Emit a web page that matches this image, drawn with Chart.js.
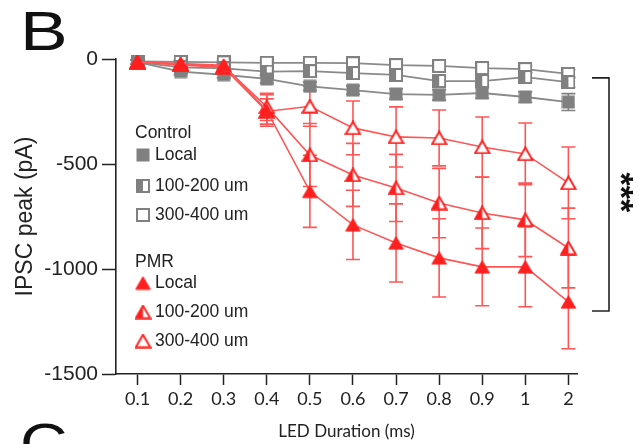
<!DOCTYPE html>
<html>
<head>
<meta charset="utf-8">
<script src="https://cdn.jsdelivr.net/npm/chart.js@4.4.1/dist/chart.umd.min.js"></script>
<style>
html,body{margin:0;padding:0;background:#fff;}
#wrap{position:relative;width:640px;height:444px;}
</style>
</head>
<body>
<div id="wrap"><canvas id="c" width="640" height="444"></canvas></div>
<script>
// ---- data ----
const durations = ['0.1','0.2','0.3','0.4','0.5','0.6','0.7','0.8','0.9','1','2'];
const yTicks = [0, -500, -1000, -1500];

const ctrlLocal    = [-15, -60, -75, -95, -130, -148, -167, -171, -162, -181, -205];
const ctrlLocalErr = [10, 15, 15, 20, 20, 20, 25, 25, 25, 25, 40];
const ctrlMid      = [-15, -40, -45, -60, -58, -67, -76, -105, -105, -86, -110];
const ctrlMidErr   = [10, 12, 12, 18, 18, 18, 20, 22, 20, 20, 25];
const ctrlFar      = [-12, -14, -16, -18, -18, -20, -29, -33, -43, -48, -71];
const ctrlFarErr   = [8, 8, 10, 12, 12, 12, 15, 15, 15, 15, 20];

const pmrLocal     = [-15, -22, -30, -245, -630, -790, -876, -947, -990, -990, -1157];
const pmrLocalErr  = [10, 10, 15, 75, 172, 165, 186, 186, 185, 190, 223];
const pmrMid       = [-15, -25, -35, -228, -457, -552, -614, -686, -733, -766, -900];
const pmrMidErr    = [10, 10, 15, 65, 150, 150, 160, 165, 170, 175, 190];
const pmrFar       = [-15, -28, -40, -250, -225, -328, -371, -376, -419, -452, -590];
const pmrFarErr    = [10, 10, 15, 60, 95, 128, 143, 133, 143, 147, 171];

const sigLabel = '***';
const bracketRange = [-90, -1200];

// ---- styles ----
const GRAY = '#808080';
const GRAY_LINE = '#8a8a8a';
const RED = '#ff1f1f';
const RED_LINE = '#ff5555';
const SANS = '"Liberation Sans", Arial, sans-serif';

function makeSquare(kind){
  const s = 14, c = document.createElement('canvas'); c.width = s; c.height = s;
  const g = c.getContext('2d');
  if (kind === 'filled'){ g.fillStyle = GRAY; g.fillRect(0.5,0.5,s-1,s-1); }
  else {
    g.fillStyle = '#fff'; g.fillRect(1,1,s-2,s-2);
    if (kind === 'half'){ g.fillStyle = GRAY; g.fillRect(1,1,(s-2)/2,s-2); }
    g.strokeStyle = GRAY; g.lineWidth = 2; g.strokeRect(1,1,s-2,s-2);
  }
  return c;
}
function makeTri(kind){
  const w = 17, h = 15, c = document.createElement('canvas'); c.width = w; c.height = h;
  const g = c.getContext('2d');
  const path = () => { g.beginPath(); g.moveTo(w/2,1.2); g.lineTo(w-1.2,h-1.2); g.lineTo(1.2,h-1.2); g.closePath(); };
  if (kind === 'filled'){ path(); g.fillStyle = RED; g.fill(); g.strokeStyle = RED; g.lineWidth = 1; g.stroke(); }
  else {
    path(); g.fillStyle = '#fff'; g.fill();
    if (kind === 'half'){ g.save(); path(); g.clip(); g.fillStyle = RED; g.fillRect(0,0,w/2,h); g.restore(); }
    path(); g.strokeStyle = RED; g.lineWidth = 2; g.stroke();
  }
  return c;
}
const sqFilled = makeSquare('filled'), sqHalf = makeSquare('half'), sqOpen = makeSquare('open');
const trFilled = makeTri('filled'), trHalf = makeTri('half'), trOpen = makeTri('open');

const toXY = arr => arr.map((v,i)=>({x:i, y:v}));
function ds(label, values, errs, marker, lineColor, errColor, lw){
  return {label, data: toXY(values), errors: errs, errorColor: errColor,
    borderColor: lineColor, borderWidth: lw, pointStyle: marker, pointRadius: 7,
    pointHoverRadius: 7, fill: false, tension: 0, clip: false};
}

const datasets = [
  ds('PMR Local', pmrLocal, pmrLocalErr, trFilled, RED_LINE, RED_LINE, 1.6),
  ds('PMR 100-200 um', pmrMid, pmrMidErr, trHalf, RED_LINE, RED_LINE, 1.6),
  ds('PMR 300-400 um', pmrFar, pmrFarErr, trOpen, RED_LINE, RED_LINE, 1.6),
  ds('Control Local', ctrlLocal, ctrlLocalErr, sqFilled, GRAY_LINE, GRAY, 1.8),
  ds('Control 100-200 um', ctrlMid, ctrlMidErr, sqHalf, GRAY_LINE, GRAY, 1.8),
  ds('Control 300-400 um', ctrlFar, ctrlFarErr, sqOpen, GRAY_LINE, GRAY, 1.8),
];

const errorBars = {
  id: 'errorBars',
  beforeDatasetsDraw(chart){
    const {ctx, scales:{x, y}} = chart;
    chart.data.datasets.forEach(d => {
      if (!d.errors) return;
      ctx.save();
      ctx.strokeStyle = d.errorColor; ctx.lineWidth = 1.6;
      d.data.forEach((p, j) => {
        const e = d.errors[j];
        const px = x.getPixelForValue(p.x);
        const y1 = y.getPixelForValue(p.y + e), y2 = y.getPixelForValue(p.y - e);
        ctx.beginPath();
        ctx.moveTo(px, y1); ctx.lineTo(px, y2);
        ctx.moveTo(px-7, y1); ctx.lineTo(px+7, y1);
        ctx.moveTo(px-7, y2); ctx.lineTo(px+7, y2);
        ctx.stroke();
      });
      ctx.restore();
    });
  }
};

const legendItems = [
  {head: 'Control'},
  {img: sqFilled, text: 'Local'},
  {img: sqHalf, text: '100-200 um'},
  {img: sqOpen, text: '300-400 um'},
  {head: 'PMR'},
  {img: trFilled, text: 'Local'},
  {img: trHalf, text: '100-200 um'},
  {img: trOpen, text: '300-400 um'},
];
const legendY = [133, 155, 186, 215, 262, 283, 312, 341];

const extras = {
  id: 'extras',
  afterDraw(chart){
    const {ctx, scales:{y}, chartArea} = chart;
    ctx.save();
    // panel letters
    ctx.fillStyle = '#111';
    ctx.font = '55px ' + SANS;
    ctx.textBaseline = 'alphabetic'; ctx.textAlign = 'left';
    ctx.save(); ctx.translate(20, 50); ctx.scale(1.3, 1); ctx.fillText('B', 0, 0); ctx.restore();
    ctx.save(); ctx.translate(20, 462); ctx.scale(1.2, 1); ctx.fillText('C', 0, 0); ctx.restore();
    // legend
    ctx.font = '17.5px ' + SANS;
    ctx.textBaseline = 'middle';
    legendItems.forEach((it, i) => {
      const yy = legendY[i];
      if (it.head){ ctx.fillStyle = '#222'; ctx.fillText(it.head, 135, yy); }
      else {
        ctx.drawImage(it.img, 143 - it.img.width/2, yy - it.img.height/2);
        ctx.fillStyle = '#222'; ctx.fillText(it.text, 155, yy);
      }
    });
    // significance bracket
    const yt = y.getPixelForValue(bracketRange[0]), yb = y.getPixelForValue(bracketRange[1]);
    const x0 = chartArea.right + 15, x1 = chartArea.right + 32;
    ctx.strokeStyle = '#222'; ctx.lineWidth = 1.6;
    ctx.beginPath();
    ctx.moveTo(x0, yt); ctx.lineTo(x1, yt); ctx.lineTo(x1, yb); ctx.lineTo(x0, yb);
    ctx.stroke();
    ctx.translate(x1 + 18, (yt + yb)/2 - 2);
    ctx.rotate(Math.PI/2);
    ctx.font = 'bold 34px ' + SANS;
    ctx.textAlign = 'center'; ctx.textBaseline = 'middle';
    ctx.fillStyle = '#111';
    ctx.fillText(sigLabel, 0, 8);
    ctx.restore();
  }
};

new Chart(document.getElementById('c'), {
  type: 'line',
  data: { datasets },
  options: {
    responsive: false,
    animation: false,
    devicePixelRatio: 1,
    layout: { padding: { top: 59, right: 63, left: 0, bottom: 0 } },
    plugins: { legend: { display: false }, tooltip: { enabled: false } },
    elements: { line: { borderJoinStyle: 'miter' } },
    scales: {
      x: {
        type: 'linear', min: -0.5, max: 10.2,
        afterFit: s => { s.height = 70; },
        afterBuildTicks: s => { s.ticks = durations.map((_, i) => ({value: i})); },
        ticks: { callback: v => durations[v], color: '#222', padding: 3, maxRotation: 0, autoSkip: false,
                 font: { family: 'Lato, "Open Sans", sans-serif', size: 18 } },
        grid: { drawOnChartArea: false, tickLength: 11, color: '#222', tickWidth: 1.5 },
        border: { color: '#222', width: 1.6 },
        title: { display: true, text: 'LED Duration (ms)', color: '#222',
                 font: { family: 'Lato, "Open Sans", sans-serif', size: 17 }, padding: { top: 0, bottom: 2 } }
      },
      y: {
        min: -1500, max: 0,
        afterFit: s => { s.width = 116; },
        afterBuildTicks: s => { s.ticks = yTicks.map(v => ({value: v})); },
        ticks: { callback: v => String(v), color: '#222', padding: 4,
                 font: { family: SANS, size: 21 } },
        grid: { drawOnChartArea: false, tickLength: 14, color: '#222', tickWidth: 1.5 },
        border: { color: '#222', width: 1.6 },
        title: { display: true, text: 'IPSC peak (pA)', color: '#222',
                 font: { family: SANS, size: 23 }, padding: { top: 12, bottom: 0 } }
      }
    }
  },
  plugins: [errorBars, extras]
});
</script>
</body>
</html>
